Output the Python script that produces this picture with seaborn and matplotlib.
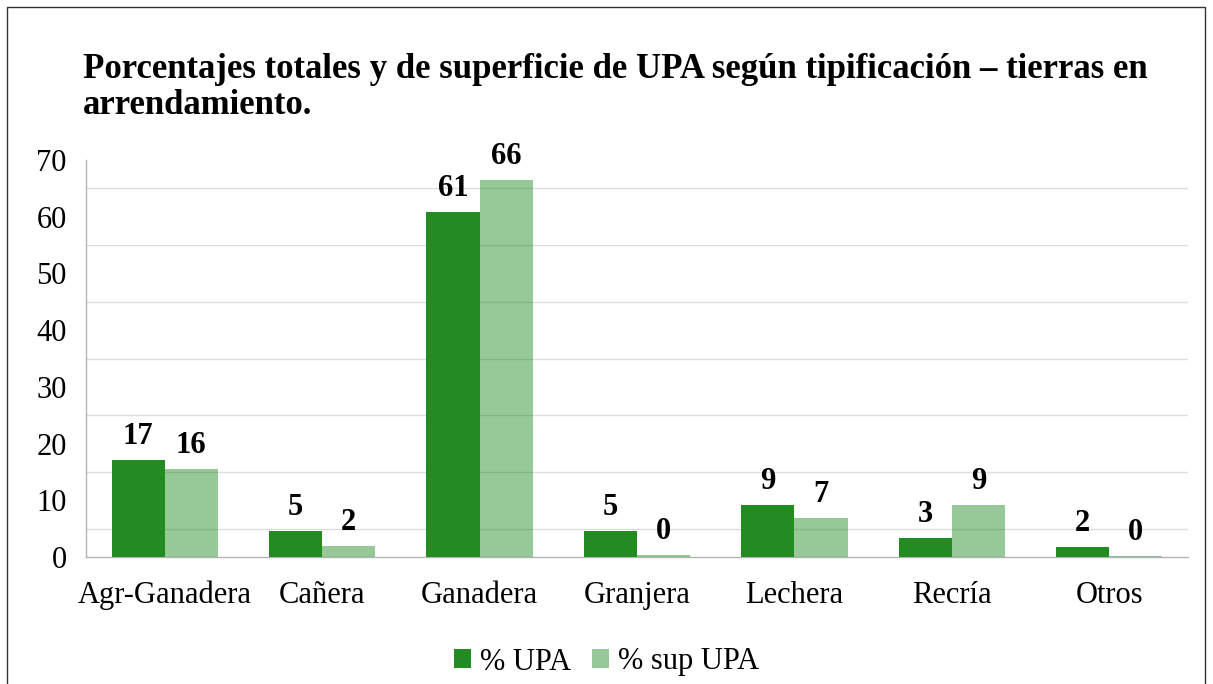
import matplotlib
matplotlib.use('Agg')
import matplotlib.pyplot as plt
import matplotlib.patches as mpatches
import pandas as pd
import seaborn as sns

categories = ['Agr-Ganadera', 'Cañera', 'Ganadera', 'Granjera', 'Lechera', 'Recría', 'Otros']
pct_upa = [17.1, 4.6, 60.8, 4.6, 9.2, 3.4, 1.8]
pct_sup_upa = [15.5, 1.9, 66.4, 0.35, 6.9, 9.2, 0.1]
series = ['% UPA', '% sup UPA']

dark = '#228B22'
light = '#9ACD9A'


def main():
    df = pd.DataFrame({
        'tipo': categories * 2,
        'serie': [series[0]] * len(categories) + [series[1]] * len(categories),
        'valor': pct_upa + pct_sup_upa,
    })

    sns.set_style('white')
    plt.rcParams['font.family'] = ['Liberation Serif', 'DejaVu Serif']
    plt.rcParams['text.color'] = 'black'
    plt.rcParams['xtick.color'] = 'black'
    plt.rcParams['ytick.color'] = 'black'

    fig = plt.figure(figsize=(12.13, 6.84), dpi=100)
    ax = fig.add_axes([86 / 1213, 127 / 684, 1102 / 1213, 397 / 684])

    sns.barplot(data=df, x='tipo', y='valor', hue='serie', order=categories,
                hue_order=series, palette=[dark, light], width=0.675,
                saturation=1, ax=ax, legend=False, zorder=3, linewidth=0)

    # second series is semi transparent
    for p in ax.containers[1]:
        p.set_alpha(0.47)
        p.set_facecolor(dark)

    for cont in ax.containers:
        ax.bar_label(cont, fmt='%.0f', padding=6.5, fontsize=22, fontweight='bold',
                     color='black')

    ax.set_ylim(0, 70)
    ax.set_xlim(-0.5, 6.5)
    ax.set_yticks(range(0, 71, 10))
    ax.set_yticks(range(5, 70, 10), minor=True)
    ax.grid(False)
    ax.yaxis.grid(True, which='minor', color='#dddddd', lw=1, zorder=0)
    ax.tick_params(axis='y', which='major', length=8, color='#b3b3b3', width=1,
                   labelsize=22, pad=6, labelcolor='black')
    ax.tick_params(axis='y', which='minor', length=0)

    ax.set_xticks(range(len(categories)))
    ax.set_xticklabels(categories)
    ax.set_xticks([i - 0.5 for i in range(len(categories) + 1)], minor=True)
    ax.tick_params(axis='x', which='major', length=0, labelsize=22, pad=17,
                   labelcolor='black')
    ax.tick_params(axis='x', which='minor', length=10, color='#b3b3b3', width=1)

    ax.set_xlabel('')
    ax.set_ylabel('')
    for s in ['top', 'right']:
        ax.spines[s].set_visible(False)
    for s in ['left', 'bottom']:
        ax.spines[s].set_color('#b3b3b3')
        ax.spines[s].set_linewidth(1)

    fig.text(83 / 1213, 1 - 53 / 684,
             'Porcentajes totales y de superficie de UPA según tipificación – tierras en\narrendamiento.',
             fontsize=25, fontweight='bold', ha='left', va='top', linespacing=1.1,
             color='black')

    handles = [mpatches.Patch(color=dark, label=series[0], lw=0),
               mpatches.Patch(color=dark, alpha=0.47, label=series[1], lw=0)]
    fig.legend(handles=handles, loc='center', bbox_to_anchor=(0.5, 1 - 662 / 684),
               ncol=2, frameon=False, fontsize=22, handlelength=0.55, handleheight=0.55,
               handletextpad=0.3, columnspacing=0.7)

    fig.patches.append(mpatches.Rectangle((7 / 1213, -0.1), 1198 / 1213, 1.1 - 7 / 684,
                                          transform=fig.transFigure, fill=False,
                                          edgecolor='#333333', lw=1))

    fig.savefig('out.png', dpi=100)


if __name__ == '__main__':
    main()
